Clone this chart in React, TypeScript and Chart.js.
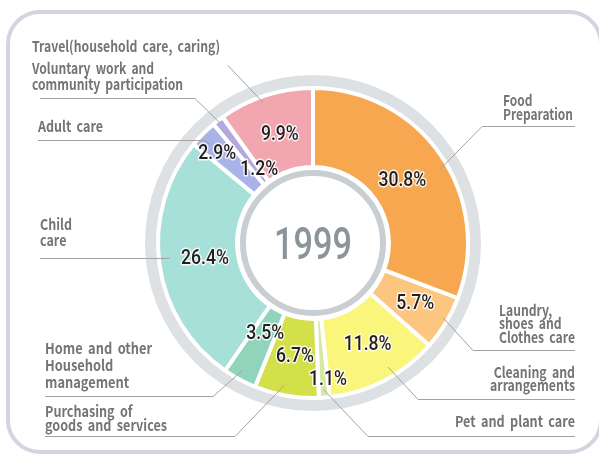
import React, { useEffect, useRef } from 'react';
import { Chart, registerables } from 'chart.js';

Chart.register(...registerables);

// ---- data ----
const categories = [
  'Food Preparation',
  'Laundry, shoes and Clothes care',
  'Cleaning and arrangements',
  'Pet and plant care',
  'Purchasing of goods and services',
  'Home and other Household management',
  'Child care',
  'Adult care',
  'Voluntary work and community participation',
  'Travel(household care, caring)',
];
const shares = [30.8, 5.7, 11.8, 1.1, 6.7, 3.5, 26.4, 2.9, 1.2, 9.9];
const pctLabels = ['30.8%', '5.7%', '11.8%', '1.1%', '6.7%', '3.5%', '26.4%', '2.9%', '1.2%', '9.9%'];
const labelLines = [
  ['Food', 'Preparation'],
  ['Laundry,', 'shoes and', 'Clothes care'],
  ['Cleaning and', 'arrangements'],
  ['Pet and plant care'],
  ['Purchasing of', 'goods and services'],
  ['Home and other', 'Household', 'management'],
  ['Child', 'care'],
  ['Adult care'],
  ['Voluntary work and', 'community participation'],
  ['Travel(household care, caring)'],
];
const centerTitle = '1999';

// ---- styles ----
const sliceColors = [
  '#F8A751', '#FDC680', '#FAF57B', '#D6E9A2', '#D3E04A',
  '#8FD4BB', '#A7DFD9', '#A9B3E8', '#B4A9DC', '#F2A6AF',
];

// ---- layout (annotation placement) ----
// percentage label: fraction along slice angle, radius
const pctPlace: [number, number][] = [
  [0.49, 110], [0.44, 118], [0.47, 114], [-0.05, 136], [0.47, 113],
  [0.5, 101], [0.505, 109], [0.37, 132], [0.96, 92], [0.53, 115],
];
// category label blocks
type Block = { x: number; y: number; lh: number; align: 'left' | 'right'; w: number; leader: [number, number][]; frac: number; r: number };
const blocks: Block[] = [
  { x: 503, y: 100, lh: 14, align: 'left', w: 70, leader: [[575, 126], [482, 126]], frac: 0.54, r: 147 },
  { x: 499, y: 310, lh: 13.5, align: 'left', w: 76, leader: [[575, 350], [473, 350]], frac: 0.44, r: 150 },
  { x: 575, y: 372, lh: 13, align: 'right', w: 85, leader: [[575, 399], [418, 399]], frac: 0.41, r: 145 },
  { x: 575, y: 421, lh: 14, align: 'right', w: 120, leader: [[575, 436], [368, 436]], frac: 0.5, r: 147 },
  { x: 45, y: 411, lh: 14, align: 'left', w: 122, leader: [[45, 436], [235, 436]], frac: 0.56, r: 145 },
  { x: 45, y: 348, lh: 17, align: 'left', w: 107, leader: [[45, 396], [213, 396]], frac: 0.55, r: 145 },
  { x: 40, y: 224, lh: 16, align: 'left', w: 32, leader: [[40, 258], [165, 258]], frac: 0.52, r: 144 },
  { x: 38, y: 126, lh: 16, align: 'left', w: 65, leader: [[38, 140], [205, 140]], frac: 0.4, r: 142 },
  { x: 32, y: 68, lh: 16.5, align: 'left', w: 151, leader: [[40, 98], [195, 98]], frac: 0.5, r: 152 },
  { x: 32, y: 46, lh: 16, align: 'left', w: 188, leader: [[228, 65]], frac: 0.45, r: 149 },
];

const W = 599;
const H = 458;
const CX = 313;
const CY = 243;
const BOX = 310;

function roundRectPath(ctx: CanvasRenderingContext2D, x: number, y: number, w: number, h: number, r: number) {
  ctx.beginPath();
  ctx.moveTo(x + r, y);
  ctx.lineTo(x + w - r, y);
  ctx.arcTo(x + w, y, x + w, y + r, r);
  ctx.lineTo(x + w, y + h - r);
  ctx.arcTo(x + w, y + h, x + w - r, y + h, r);
  ctx.lineTo(x + r, y + h);
  ctx.arcTo(x, y + h, x, y + h - r, r);
  ctx.lineTo(x, y + r);
  ctx.arcTo(x, y, x + r, y, r);
  ctx.closePath();
}

function pointOn(arc: any, frac: number, r: number): [number, number] {
  const a = arc.startAngle + frac * (arc.endAngle - arc.startAngle);
  return [arc.x + r * Math.cos(a), arc.y + r * Math.sin(a)];
}

const decor = {
  id: 'decor',
  beforeDatasetsDraw(chart: any) {
    const ctx: CanvasRenderingContext2D = chart.ctx;
    const arc0 = chart.getDatasetMeta(0).data[0];
    ctx.save();
    ctx.strokeStyle = '#D4D4E0';
    ctx.lineWidth = 4;
    roundRectPath(ctx, 8, 12, 593, 440, 32);
    ctx.stroke();
    ctx.beginPath();
    ctx.arc(arc0.x, arc0.y, 162, 0, Math.PI * 2);
    ctx.lineWidth = 12;
    ctx.strokeStyle = '#DDE1E4';
    ctx.stroke();
    ctx.beginPath();
    ctx.arc(arc0.x, arc0.y, 70, 0, Math.PI * 2);
    ctx.lineWidth = 6;
    ctx.strokeStyle = '#C9CED2';
    ctx.stroke();
    ctx.restore();
  },
  afterDatasetsDraw(chart: any) {
    const ctx: CanvasRenderingContext2D = chart.ctx;
    const arcs = chart.getDatasetMeta(0).data;
    ctx.save();
    // leader lines
    ctx.lineWidth = 1;
    ctx.strokeStyle = '#A3A3A3';
    blocks.forEach((b, i) => {
      const end = pointOn(arcs[i], b.frac, b.r);
      ctx.beginPath();
      ctx.moveTo(b.leader[0][0], b.leader[0][1] + 0.5);
      for (let k = 1; k < b.leader.length; k++) ctx.lineTo(b.leader[k][0], b.leader[k][1] + 0.5);
      ctx.lineTo(end[0], end[1]);
      ctx.stroke();
    });
    // category labels
    ctx.fillStyle = '#747474';
    ctx.font = '700 15px "Noto Sans CJK KR", "Noto Sans", sans-serif';
    try { (ctx as any).wordSpacing = '3px'; } catch (e) {}
    ctx.textBaseline = 'alphabetic';
    labelLines.forEach((lines, i) => {
      const b = blocks[i];
      const widest = Math.max(...lines.map((t) => ctx.measureText(t).width));
      const sx = b.w / widest;
      lines.forEach((t, k) => {
        ctx.save();
        ctx.translate(b.x, b.y + k * b.lh + 5.5);
        ctx.scale(sx, 1);
        ctx.textAlign = b.align;
        ctx.fillText(t, 0, 0);
        ctx.restore();
      });
    });
    try { (ctx as any).wordSpacing = '0px'; } catch (e) {}
    // percentage labels
    ctx.font = '500 20px Roboto, "DejaVu Sans", sans-serif';
    ctx.textAlign = 'center';
    ctx.lineJoin = 'round';
    pctLabels.forEach((t, i) => {
      const [fr, r] = pctPlace[i];
      const [x, y] = pointOn(arcs[i], fr, r);
      ctx.save();
      ctx.translate(x, y + 7);
      ctx.scale(0.88, 1);
      ctx.strokeStyle = 'rgba(255,255,255,0.85)';
      ctx.lineWidth = 3;
      ctx.strokeText(t, 0, 0);
      ctx.fillStyle = '#231F20';
      ctx.fillText(t, 0, 0);
      ctx.restore();
    });
    // center title
    ctx.font = '500 44px Roboto, "DejaVu Sans", sans-serif';
    const tw = ctx.measureText(centerTitle).width;
    ctx.save();
    ctx.translate(arcs[0].x, arcs[0].y + 16);
    ctx.scale(78 / tw, 1);
    ctx.fillStyle = '#8A9499';
    ctx.textAlign = 'center';
    ctx.fillText(centerTitle, 0, 0);
    ctx.restore();
    ctx.restore();
  },
};

export default function App() {
  const ref = useRef<HTMLCanvasElement | null>(null);
  useEffect(() => {
    if (!ref.current) return;
    const chart = new Chart(ref.current, {
      type: 'doughnut',
      data: {
        labels: categories,
        datasets: [
          {
            data: shares,
            backgroundColor: sliceColors,
            borderColor: '#FFFFFF',
            borderWidth: 4,
            hoverOffset: 0,
          },
        ],
      },
      options: {
        responsive: false,
        animation: false,
        radius: 155,
        cutout: '49%',
        layout: {
          padding: {
            left: CX - BOX / 2,
            top: CY - BOX / 2,
            right: W - (CX + BOX / 2),
            bottom: H - (CY + BOX / 2),
          },
        },
        plugins: {
          legend: { display: false },
          tooltip: { enabled: false },
        },
        events: [],
      },
      plugins: [decor],
    });
    return () => chart.destroy();
  }, []);
  return (
    <div style={{ position: 'absolute', left: 0, top: 0, width: W, height: H, background: '#fff' }}>
      <canvas ref={ref} width={W} height={H} style={{ width: W, height: H, display: 'block' }} />
    </div>
  );
}
